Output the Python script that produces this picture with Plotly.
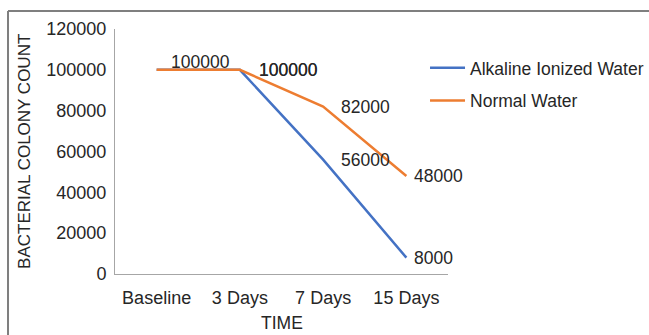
import plotly.graph_objects as go

categories = ["Baseline", "3 Days", "7 Days", "15 Days"]
alkaline = [100000, 100000, 56000, 8000]
normal = [100000, 100000, 82000, 48000]
y_ticks = [0, 20000, 40000, 60000, 80000, 100000, 120000]

series_names = ["Alkaline Ionized Water", "Normal Water"]
colors = ["#4472C4", "#ED7D31"]

FONT = "Liberation Sans, Arial, sans-serif"
TXT = "#262626"

fig = go.Figure()
for i, (name, vals) in enumerate(zip(series_names, [alkaline, normal])):
    fig.add_trace(go.Scatter(
        x=categories, y=vals, mode="lines", name=name,
        line=dict(color=colors[i], width=2.5),
        legendgroup=name,
    ))

# data labels (label placement styles kept separate from data)
label_specs = [
    # (series values, index, xshift, yshift, xanchor)
    (normal, 0, 44, 8, "center"),
    (alkaline, 1, 17, 0, "left"),
    (normal, 1, 17.4, 0, "left"),
    (normal, 2, 16, 0, "left"),
    (alkaline, 2, 16, 0, "left"),
    (normal, 3, 6, 0, "left"),
    (alkaline, 3, 6, 0, "left"),
]
for vals, idx, xs, ys, xa in label_specs:
    fig.add_annotation(
        x=categories[idx], y=vals[idx], text=str(vals[idx]),
        showarrow=False, xanchor=xa, yanchor="middle",
        xshift=xs, yshift=ys,
        font=dict(family=FONT, size=17.5, color=TXT),
    )

# axis titles
fig.add_annotation(x=0.5, y=-0.2, xref="paper", yref="paper", text="TIME",
                   showarrow=False, xanchor="center", yanchor="middle",
                   font=dict(family=FONT, size=17.5, color=TXT))
fig.add_annotation(x=-0.272, y=0.5, xref="paper", yref="paper",
                   text="BACTERIAL COLONY COUNT", textangle=-90,
                   showarrow=False, xanchor="center", yanchor="middle",
                   font=dict(family=FONT, size=17, color=TXT))

# outer frame (top and left edges visible)
fig.add_shape(type="line", xref="paper", yref="paper",
              x0=-0.3213, y0=-0.3, x1=-0.3213, y1=1.0735,
              line=dict(color="#7f7f7f", width=2))
fig.add_shape(type="line", xref="paper", yref="paper",
              x0=-0.3213, y0=1.0735, x1=1.7, y1=1.0735,
              line=dict(color="#7f7f7f", width=2))

fig.update_layout(
    width=649, height=335,
    margin=dict(l=115, r=201, t=29, b=61, autoexpand=False),
    paper_bgcolor="white", plot_bgcolor="white",
    font=dict(family=FONT, size=18, color=TXT),
    showlegend=True,
    legend=dict(x=0.931, y=0.915, xanchor="left", yanchor="top",
                bgcolor="rgba(0,0,0,0)", traceorder="grouped",
                tracegroupgap=7, itemwidth=35,
                font=dict(size=17.5, color=TXT)),
    xaxis=dict(
        type="category", range=[-0.5, 3.5],
        showline=True, linecolor="#a6a6a6", linewidth=1,
        showgrid=False, zeroline=False, ticks="",
        ticklabelstandoff=7,
        tickfont=dict(family=FONT, size=18, color=TXT),
    ),
    yaxis=dict(
        range=[0, 120000], tickvals=y_ticks,
        ticktext=[str(v) for v in y_ticks],
        showline=True, linecolor="#a6a6a6", linewidth=1,
        showgrid=False, zeroline=False, ticks="",
        ticklabelstandoff=4,
        tickfont=dict(family=FONT, size=18, color=TXT),
    ),
)

fig.write_html(
    "out.html",
    config={"displayModeBar": False},
    post_script=(
        "document.body.style.margin='0px';"
        "document.body.style.overflow='hidden';"
        "document.documentElement.style.overflow='hidden';"
    ),
)
